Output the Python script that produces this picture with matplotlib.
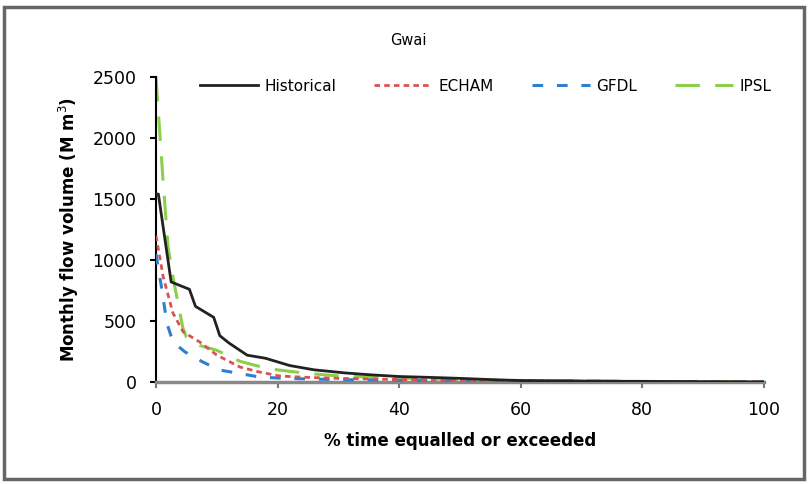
import matplotlib
matplotlib.use("Agg")
import matplotlib.pyplot as plt
from matplotlib.patches import Rectangle

plt.rcParams['font.family'] = ['DejaVu Sans']

title = "Gwai"
xlabel = "% time equalled or exceeded"
ylabel = "Monthly flow volume (M m$^3$)"

hist_x = [0, 0.4, 2.5, 5.5, 6.5, 8.5, 9.5, 10.5, 12, 15, 18, 22, 26, 31, 35, 40, 45, 50, 55, 60, 70, 80, 90, 100]
hist_y = [1540, 1540, 820, 760, 620, 560, 530, 380, 320, 220, 195, 135, 100, 75, 60, 45, 38, 30, 20, 12, 8, 5, 3, 1]

echam_x = [0, 1.2, 2.8, 4.5, 7.2, 10, 13.8, 17, 20.4, 25, 30, 40, 50, 60, 70, 80, 90, 100]
echam_y = [1200, 860, 565, 410, 328, 221, 123, 82, 49, 38, 30, 20, 14, 10, 7, 5, 3, 2]

gfdl_x = [0, 0.9, 1.8, 2.8, 4.8, 7.7, 10.5, 13.3, 17, 19.9, 25, 30, 40, 50, 60, 70, 80, 90, 100]
gfdl_y = [1050, 780, 483, 328, 246, 164, 98, 74, 41, 33, 25, 20, 14, 10, 8, 6, 4, 3, 2]

ipsl_x = [0, 1.2, 2, 2.8, 4.4, 5, 7.2, 10, 13.8, 17.6, 19.9, 25, 30, 40, 50, 60, 70, 80, 90, 100]
ipsl_y = [2500, 1630, 1106, 860, 450, 369, 300, 260, 170, 120, 100, 70, 50, 32, 20, 12, 8, 5, 3, 2]

xticks = [0, 20, 40, 60, 80, 100]
yticks = [0, 500, 1000, 1500, 2000, 2500]

fig = plt.figure(figsize=(8.08, 4.84), dpi=100)
ax = fig.add_axes([0.193, 0.2107, 0.7525, 0.6303])

ax.plot(hist_x, hist_y, color='#222222', lw=2.0, label='Historical', zorder=5)
ax.plot(echam_x, echam_y, color='#d9534f', lw=2.0, ls=(0, (2, 1.5)), label='ECHAM', zorder=4)
ax.plot(gfdl_x, gfdl_y, color='#2f7fd0', lw=2.2, ls=(0, (3.5, 4.5)), label='GFDL', zorder=3)
ax.plot(ipsl_x, ipsl_y, color='#8ccf4a', lw=2.2, ls=(0, (8, 5)), label='IPSL', zorder=2)

ax.set_xlim(0, 100)
ax.set_ylim(0, 2500)
ax.set_xticks(xticks)
ax.set_yticks(yticks)
ax.tick_params(axis='both', labelsize=12.5, direction='out')
ax.tick_params(axis='y', length=4, width=1.5, color='black', pad=10)
ax.tick_params(axis='x', length=4, width=1.5, color='#777777', pad=10)

for s in ['top', 'right']:
    ax.spines[s].set_visible(False)
ax.spines['left'].set_color('black')
ax.spines['left'].set_linewidth(1.5)
ax.spines['bottom'].set_color('#888888')
ax.spines['bottom'].set_linewidth(2.5)

ax.set_xlabel(xlabel, fontsize=12, fontweight='bold', labelpad=9)
ax.set_ylabel(ylabel, fontsize=12, fontweight='bold', labelpad=8)
fig.text(0.505, 0.917, title, fontsize=10.5, ha='center', va='center')

ax.legend(loc='upper center', bbox_to_anchor=(0.542, 1.04), ncol=4, frameon=False,
          fontsize=11, handlelength=3.8, columnspacing=2.5, handletextpad=0.4)

fig.patches.append(Rectangle((0.005, 0.01), 0.99, 0.975, transform=fig.transFigure,
                             fill=False, edgecolor='#666666', lw=2.5))

fig.savefig('out.png', dpi=100)
